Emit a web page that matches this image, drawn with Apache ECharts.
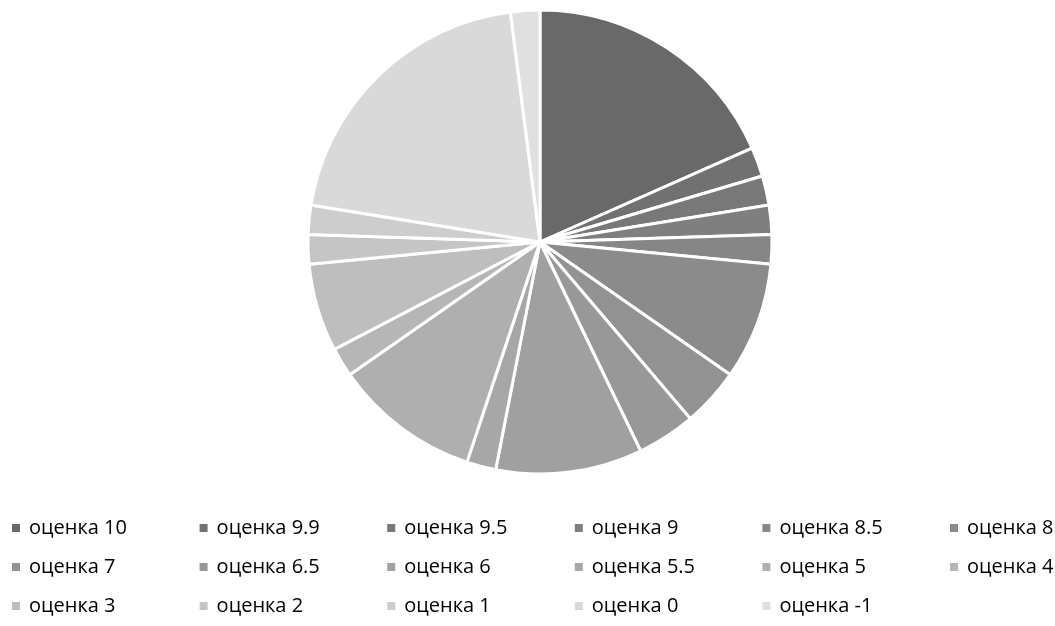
<!DOCTYPE html>
<html>
<head>
<meta charset="utf-8">
<script src="https://cdn.jsdelivr.net/npm/echarts@6/dist/echarts.min.js"></script>
<style>
  html, body { margin: 0; padding: 0; background: #fff; }
  #chart { width: 1055px; height: 626px; }
</style>
</head>
<body>
<div id="chart"></div>
<script>
const categories = ['оценка 10', 'оценка 9.9', 'оценка 9.5', 'оценка 9', 'оценка 8.5', 'оценка 8',
  'оценка 7', 'оценка 6.5', 'оценка 6', 'оценка 5.5', 'оценка 5', 'оценка 4',
  'оценка 3', 'оценка 2', 'оценка 1', 'оценка 0', 'оценка -1']
const counts = [9, 1, 1, 1, 1, 4, 2, 2, 5, 1, 5, 1, 3, 1, 1, 10, 1]
const grays = ['#696969', '#717171', '#787878', '#7f7f7f', '#868686', '#8b8b8b',
  '#929292', '#989898', '#a0a0a0', '#a7a7a7', '#afafaf', '#b6b6b6',
  '#bebebe', '#c5c5c5', '#cdcdcd', '#d9d9d9', '#e0e0e0']

const chart = echarts.init(document.getElementById('chart'))

const pieData = categories.map((name, i) => ({
  name,
  value: counts[i],
  itemStyle: { color: grays[i] }
}))

// one legend per entry, laid out as a 6-column grid
const legends = categories.map((name, i) => ({
  data: [name],
  left: 12 + (i % 6) * 187.6,
  top: 518 + Math.floor(i / 6) * 39,
  padding: 0,
  itemWidth: 8,
  itemHeight: 8,
  icon: 'rect',
  itemStyle: { borderWidth: 0 },
  selectedMode: false,
  textStyle: {
    fontFamily: 'Open Sans',
    fontSize: 20,
    lineHeight: 20,
    color: '#000',
    padding: [0, 0, 0, 4]
  }
}))

chart.setOption({
  animation: false,
  legend: legends,
  series: [
    {
      type: 'pie',
      center: [540, 242],
      radius: [0, 232],
      startAngle: 90,
      clockwise: true,
      label: { show: false },
      labelLine: { show: false },
      itemStyle: { borderColor: '#fff', borderWidth: 3 },
      emphasis: { disabled: true },
      data: pieData
    }
  ]
})
</script>
</body>
</html>
